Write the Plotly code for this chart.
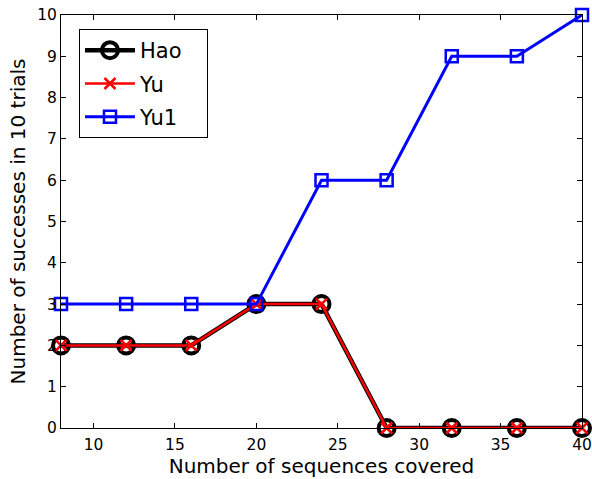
import plotly.graph_objects as go

x_vals = [8, 12, 16, 20, 24, 28, 32, 36, 40]
hao = [2, 2, 2, 3, 3, 0, 0, 0, 0]
yu = [2, 2, 2, 3, 3, 0, 0, 0, 0]
yu1 = [3, 3, 3, 3, 6, 6, 9, 9, 10]
x_ticks = [10, 15, 20, 25, 30, 35, 40]
y_ticks = list(range(0, 11))
series_names = ["Hao", "Yu", "Yu1"]

FONT = "DejaVu Sans"
PAD = "\u00a0\u00a0\u00a0"

fig = go.Figure()
fig.add_trace(go.Scatter(
    x=x_vals, y=hao, name=series_names[0] + PAD, mode="lines+markers", legendgroup="a",
    line=dict(color="black", width=4.5),
    marker=dict(symbol="circle-open", size=16, color="black",
                line=dict(color="black", width=4)),
    cliponaxis=False,
))
fig.add_trace(go.Scatter(
    x=x_vals, y=yu, name=series_names[1] + PAD, mode="lines+markers", legendgroup="b",
    line=dict(color="red", width=2.5),
    marker=dict(symbol="x-thin", size=11, color="red",
                line=dict(color="red", width=2.5)),
    cliponaxis=False,
))
fig.add_trace(go.Scatter(
    x=x_vals, y=yu1, name=series_names[2] + PAD, mode="lines+markers", legendgroup="c",
    line=dict(color="blue", width=3),
    marker=dict(symbol="square-open", size=12, color="blue",
                line=dict(color="blue", width=2.5)),
    cliponaxis=False,
))

axis_common = dict(
    showline=True, linecolor="black", linewidth=1, mirror="ticks",
    ticks="inside", ticklen=5, tickcolor="black", tickwidth=1,
    showgrid=False, zeroline=False, automargin=False,
    tickfont=dict(family=FONT, size=15.5, color="black"),
)

fig.update_layout(
    width=592, height=479,
    margin=dict(l=61, r=10, t=15, b=51),
    paper_bgcolor="white", plot_bgcolor="white",
    font=dict(family=FONT, color="black"),
    xaxis=dict(range=[8, 40], tickvals=x_ticks, ticklabelstandoff=2,
               title=dict(text="Number of sequences covered", standoff=2,
                          font=dict(family=FONT, size=20, color="black")),
               **axis_common),
    yaxis=dict(range=[0, 10], tickvals=y_ticks,
               title=dict(text="Number of successes in 10 trials", standoff=6,
                          font=dict(family=FONT, size=20, color="black")),
               **axis_common),
    legend=dict(x=0.0345, y=0.966, xanchor="left", yanchor="top",
                bordercolor="black", borderwidth=1, bgcolor="white",
                font=dict(family=FONT, size=21, color="black"),
                tracegroupgap=3, itemwidth=50),
    showlegend=True,
)

fig.write_html("out.html", config={"displayModeBar": False},
               post_script="document.body.style.margin='0';document.body.style.overflow='hidden';")
